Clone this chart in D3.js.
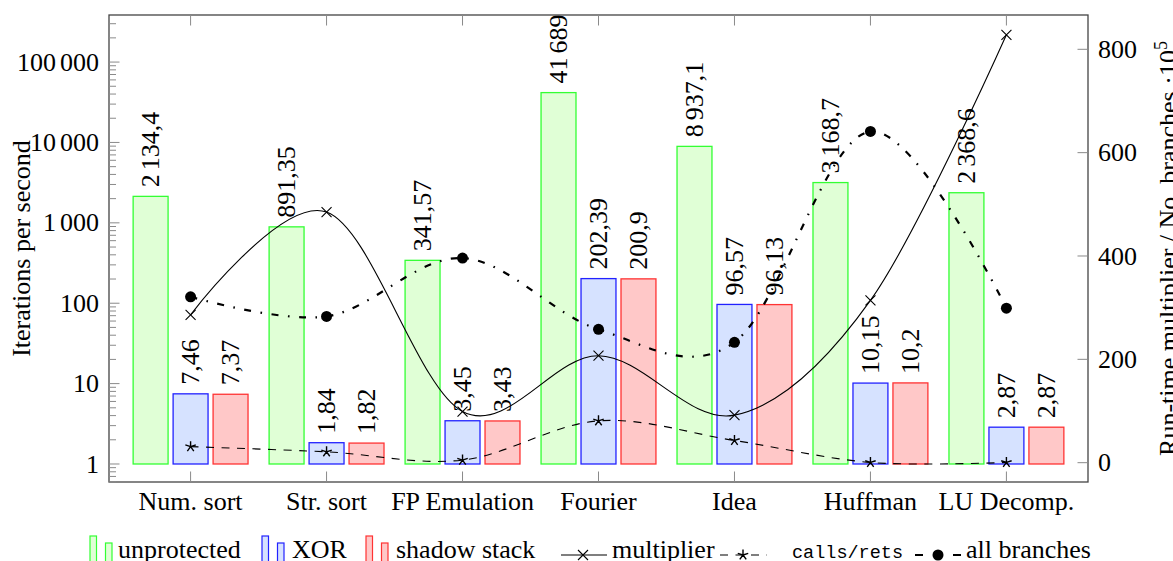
<!DOCTYPE html>
<html>
<head>
<meta charset="utf-8">
<script src="https://cdn.jsdelivr.net/npm/d3@7"></script>
<style>
  body { margin: 0; background: #fff; }
  text { font-family: "Liberation Serif", "Times New Roman", serif; fill: #000; }
</style>
</head>
<body>
<div id="chart"></div>
<script>
// data
var categories = ["Num. sort", "Str. sort", "FP Emulation", "Fourier", "Idea", "Huffman", "LU Decomp."];
var unprotected = [2134.4, 891.35, 341.57, 41689, 8937.1, 3168.7, 2368.6];
var xor = [7.46, 1.84, 3.45, 202.39, 96.57, 10.15, 2.87];
var shadowStack = [7.37, 1.82, 3.43, 200.9, 96.13, 10.2, 2.87];
// right axis series
var multiplier = [286, 485, 99, 207, 92, 314, 828];
var callsRets = [31, 21, 5, 81, 43, 0.5, 0.5];
var allBranches = [321, 283, 396, 258, 233, 641, 299];
var leftTicks = [1, 10, 100, 1000, 10000, 100000];
var rightTicks = [0, 200, 400, 600, 800];

var W = 1173, H = 561;
var plot = { left: 109, right: 1088, top: 15, bottom: 482 };
var fontSize = 26;

var svg = d3.select("#chart").append("svg")
  .attr("width", W)
  .attr("height", H);

var x = d3.scalePoint().domain(categories).range([plot.left, plot.right]).padding(0.6);
var yL = d3.scaleLog().domain([0.597, 3.85e5]).range([plot.bottom, plot.top]);
var yR = d3.scaleLinear().domain([-37.4, 866.4]).range([plot.bottom, plot.top]);

var step = x.step();
var barW = step * 0.257;
var barOff = step * 0.294;

// number text: decimal comma, small gap between thousands groups
function putNum(sel, v) {
  var parts = String(v).split(".");
  var ip = parts[0];
  var groups = [];
  while (ip.length > 3) {
    groups.unshift(ip.slice(-3));
    ip = ip.slice(0, -3);
  }
  groups.unshift(ip);
  groups.forEach(function(gr, k) {
    sel.append("tspan").attr("dx", k > 0 ? 4 : null).text(gr);
  });
  if (parts.length > 1) sel.append("tspan").text("," + parts[1]);
}

var barSeries = [
  { name: "unprotected", values: unprotected, fill: "#e0ffd6", stroke: "#33ff33", off: -1 },
  { name: "XOR", values: xor, fill: "#d6e2ff", stroke: "#2222ff", off: 0 },
  { name: "shadow stack", values: shadowStack, fill: "#ffc8c8", stroke: "#ff3333", off: 1 }
];

// bars
barSeries.forEach(function(s) {
  var g = svg.append("g");
  g.selectAll("rect")
    .data(s.values)
    .enter().append("rect")
    .attr("x", function(d, i) { return x(categories[i]) + s.off * barOff - barW / 2; })
    .attr("y", function(d) { return yL(d); })
    .attr("width", barW)
    .attr("height", function(d) { return yL(1) - yL(d); })
    .style("fill", s.fill)
    .style("stroke", s.stroke)
    .style("stroke-width", 1.3);

  g.selectAll("text")
    .data(s.values)
    .enter().append("text")
    .attr("transform", function(d, i) {
      var cx = x(categories[i]) + s.off * barOff;
      return "translate(" + (cx + 8.5) + "," + (yL(d) - 9) + ") rotate(-90)";
    })
    .style("font-size", fontSize + "px")
    .each(function(d) { putNum(d3.select(this), d); });
});

// frame
svg.append("rect")
  .attr("x", plot.left).attr("y", plot.top)
  .attr("width", plot.right - plot.left)
  .attr("height", plot.bottom - plot.top)
  .style("fill", "none")
  .style("stroke", "#444")
  .style("stroke-width", 1.3);

// left log axis ticks
var tickColor = "#8a8a8a";
yL.ticks().forEach(function(t) {
  var major = leftTicks.indexOf(t) >= 0;
  svg.append("line")
    .attr("x1", plot.left).attr("x2", plot.left + (major ? 10.5 : 7))
    .attr("y1", yL(t)).attr("y2", yL(t))
    .style("stroke", tickColor).style("stroke-width", 1);
});
svg.selectAll(".ltick")
  .data(leftTicks)
  .enter().append("text")
  .attr("x", 99)
  .attr("y", function(d) { return yL(d); })
  .attr("dy", "0.33em")
  .style("text-anchor", "end")
  .style("font-size", fontSize + "px")
  .each(function(d) { putNum(d3.select(this), d); });

// right linear axis
rightTicks.forEach(function(t) {
  svg.append("line")
    .attr("x1", plot.right).attr("x2", plot.right - 10.5)
    .attr("y1", yR(t)).attr("y2", yR(t))
    .style("stroke", tickColor).style("stroke-width", 1);
});
svg.selectAll(".rtick")
  .data(rightTicks)
  .enter().append("text")
  .attr("x", 1098)
  .attr("y", function(d) { return yR(d); })
  .attr("dy", "0.33em")
  .style("font-size", fontSize + "px")
  .text(function(d) { return d; });

// x ticks (bottom and top)
categories.forEach(function(c) {
  svg.append("line")
    .attr("x1", x(c)).attr("x2", x(c))
    .attr("y1", plot.bottom).attr("y2", plot.bottom - 10.5)
    .style("stroke", tickColor).style("stroke-width", 1);
  svg.append("line")
    .attr("x1", x(c)).attr("x2", x(c))
    .attr("y1", plot.top).attr("y2", plot.top + 10.5)
    .style("stroke", tickColor).style("stroke-width", 1);
});
svg.selectAll(".xlab")
  .data(categories)
  .enter().append("text")
  .attr("x", function(d) { return x(d); })
  .attr("y", 510)
  .style("text-anchor", "middle")
  .style("font-size", fontSize + "px")
  .text(function(d) { return d; });

// axis titles
svg.append("text")
  .attr("transform", "translate(30," + ((plot.top + plot.bottom) / 2) + ") rotate(-90)")
  .style("text-anchor", "middle")
  .style("font-size", fontSize + "px")
  .text("Iterations per second");

var rt = svg.append("text")
  .attr("transform", "translate(1177," + ((plot.top + plot.bottom) / 2) + ") rotate(-90)")
  .style("text-anchor", "middle")
  .style("font-size", fontSize + "px");
rt.append("tspan").text("Run-time multiplier / No. branches \u00b710");
rt.append("tspan").attr("dy", -10).style("font-size", "18px").text("5");

// markers
function markerPath(type, r) {
  if (type === "x") {
    return "M" + (-r) + "," + (-r) + "L" + r + "," + r + "M" + (-r) + "," + r + "L" + r + "," + (-r);
  }
  if (type === "star") {
    var p = "";
    for (var k = 0; k < 5; k++) {
      var a = -Math.PI / 2 + k * 2 * Math.PI / 5;
      p += "M0,0L" + (r * Math.cos(a)).toFixed(2) + "," + (r * Math.sin(a)).toFixed(2);
    }
    return p;
  }
  return "";
}

var lineSeries = [
  { name: "multiplier", values: multiplier, dash: null, width: 1.1, marker: "x" },
  { name: "calls/rets", values: callsRets, dash: "8,7.5", width: 1.1, marker: "star" },
  { name: "all branches", values: allBranches, dash: "7,9.5,1.6,9.5", width: 2.2, marker: "dot" }
];

var line = d3.line()
  .x(function(d, i) { return x(categories[i]); })
  .y(function(d) { return yR(d); })
  .curve(d3.curveCardinal.tension(0));

function drawMarker(g, type, cx, cy) {
  if (type === "dot") {
    g.append("circle").attr("cx", cx).attr("cy", cy).attr("r", 5.5).style("fill", "#000");
  } else {
    g.append("path")
      .attr("transform", "translate(" + cx + "," + cy + ")")
      .attr("d", markerPath(type, type === "x" ? 5 : 5.5))
      .style("stroke", "#000")
      .style("stroke-width", type === "x" ? 1.1 : 1.4)
      .style("fill", "none");
  }
}

lineSeries.forEach(function(s) {
  var g = svg.append("g");
  g.append("path")
    .datum(s.values)
    .attr("d", line)
    .style("fill", "none")
    .style("stroke", "#000")
    .style("stroke-width", s.width)
    .style("stroke-dasharray", s.dash);
  s.values.forEach(function(d, i) {
    drawMarker(g, s.marker, x(categories[i]), yR(d));
  });
});

// legend
var legY = 555, legBase = 558;
var barLegend = [
  { s: barSeries[0], ix: 90, tx: 118 },
  { s: barSeries[1], ix: 262, tx: 292 },
  { s: barSeries[2], ix: 366, tx: 396 }
];
barLegend.forEach(function(e) {
  var lg = svg.append("g");
  lg.append("rect").attr("x", e.ix).attr("y", 536).attr("width", 6.5).attr("height", 27)
    .style("fill", e.s.fill).style("stroke", e.s.stroke).style("stroke-width", 1.2);
  lg.append("rect").attr("x", e.ix + 15.5).attr("y", 543).attr("width", 6.5).attr("height", 20)
    .style("fill", e.s.fill).style("stroke", e.s.stroke).style("stroke-width", 1.2);
  lg.append("text").attr("x", e.tx).attr("y", legBase)
    .style("font-size", fontSize + "px").text(e.s.name);
});

var lineLegend = [
  { s: lineSeries[0], x1: 561, x2: 607, mx: 583, tx: 612 },
  { s: lineSeries[1], x1: 720, x2: 767, mx: 743, tx: 792, mono: true },
  { s: lineSeries[2], x1: 915, x2: 961, mx: 938, tx: 966 }
];
lineLegend.forEach(function(e) {
  var lg = svg.append("g");
  lg.append("line").attr("x1", e.x1).attr("x2", e.x2).attr("y1", legY).attr("y2", legY)
    .style("stroke", "#000").style("stroke-width", e.s.width)
    .style("stroke-dasharray", e.mono ? "8,7.5" : (e.s.marker === "dot" ? "8,30,0,0" : e.s.dash));
  drawMarker(lg, e.s.marker, e.mx, legY);
  lg.append("text").attr("x", e.tx).attr("y", legBase)
    .style("font-family", e.mono ? "'Liberation Mono', 'DejaVu Sans Mono', monospace" : null)
    .style("font-size", e.mono ? "18.5px" : fontSize + "px")
    .text(e.s.name);
});
</script>
</body>
</html>
